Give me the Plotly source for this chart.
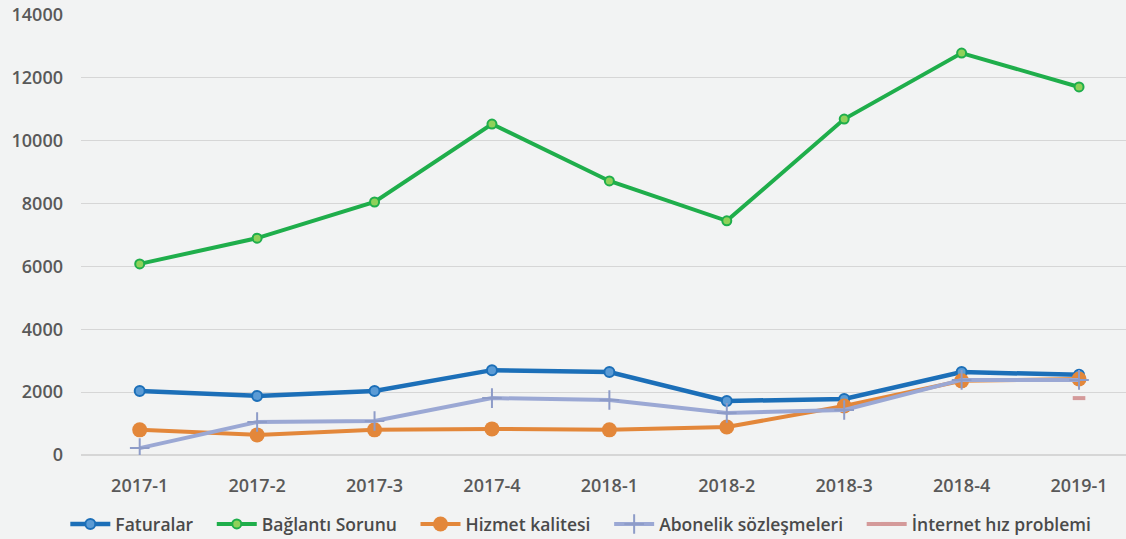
import plotly.graph_objects as go

categories = ["2017-1", "2017-2", "2017-3", "2017-4", "2018-1", "2018-2", "2018-3", "2018-4", "2019-1"]
faturalar = [2040, 1880, 2040, 2700, 2640, 1720, 1780, 2640, 2550]
baglanti = [6080, 6900, 8050, 10530, 8720, 7450, 10690, 12790, 11710]
hizmet = [800, 640, 800, 830, 800, 890, 1560, 2360, 2420]
abonelik = [220, 1050, 1080, 1810, 1750, 1340, 1430, 2390, 2390]
internet = [None, None, None, None, None, None, None, None, 1810]
y_ticks = [0, 2000, 4000, 6000, 8000, 10000, 12000, 14000]

GAP = "\u00a0\u00a0\u00a0"

fig = go.Figure()

fig.add_trace(go.Scatter(
    x=categories, y=faturalar, name="Faturalar" + GAP, mode="lines+markers",
    line=dict(color="#1c6fb8", width=4.5),
    marker=dict(symbol="circle", size=10, color="#5b9bd5", line=dict(color="#1c6fb8", width=2)),
))
fig.add_trace(go.Scatter(
    x=categories, y=baglanti, name="Bağlantı Sorunu" + GAP, mode="lines+markers",
    line=dict(color="#1fae4b", width=4),
    marker=dict(symbol="circle", size=9, color="#8fd15a", line=dict(color="#1fae4b", width=2)),
))
fig.add_trace(go.Scatter(
    x=categories, y=hizmet, name="Hizmet kalitesi" + GAP, mode="lines+markers",
    line=dict(color="#e3873a", width=4),
    marker=dict(symbol="circle", size=15, color="#e3873a"),
))
fig.add_trace(go.Scatter(
    x=categories, y=abonelik, name="Abonelik sözleşmeleri" + GAP, mode="lines+markers",
    line=dict(color="#9ba8d4", width=4),
    marker=dict(symbol="cross-thin", size=14, color="#8e9cc8", line=dict(color="#8e9cc8", width=2)),
))
fig.add_trace(go.Scatter(
    x=categories, y=internet, name="İnternet hız problemi", mode="lines+markers",
    line=dict(color="#d49a9a", width=4),
    marker=dict(symbol="line-ew", size=9, color="#d49a9a", line=dict(color="#d49a9a", width=4)),
))

fig.update_layout(
    width=1126, height=539,
    margin=dict(l=81, r=0, t=15, b=84, autoexpand=False),
    paper_bgcolor="#f2f3f3", plot_bgcolor="#f2f3f3",
    font=dict(family="Open Sans, sans-serif", color="#595959", size=16),
    showlegend=True,
    legend=dict(
        orientation="h", x=-0.015, xanchor="left", y=-0.157, yanchor="middle",
        font=dict(family="Open Sans, sans-serif", size=17.5, color="#4a4a4a", weight=600),
        bgcolor="rgba(0,0,0,0)", itemwidth=40, tracegroupgap=0,
    ),
)
fig.update_xaxes(
    type="category", categoryorder="array", categoryarray=categories,
    range=[-0.5, 8.4], showgrid=False, zeroline=False, showline=False,
    ticks="", ticklabelstandoff=18, automargin=False,
    tickfont=dict(family="Open Sans, sans-serif", size=18, color="#595959", weight=600),
)
fig.update_yaxes(
    range=[0, 14000], tickvals=y_ticks, ticktext=[str(v) for v in y_ticks],
    showgrid=True, gridcolor="#d6d6d6", gridwidth=1, zeroline=True, zerolinecolor="#d6d6d6",
    showline=False, ticks="", ticklabelstandoff=17, automargin=False,
    tickfont=dict(family="Open Sans, sans-serif", size=18, color="#595959", weight=600),
)

fig.write_html(
    "out.html",
    config={"displayModeBar": False},
    post_script="document.body.style.margin='0';document.body.style.background='#f2f3f3';",
)
